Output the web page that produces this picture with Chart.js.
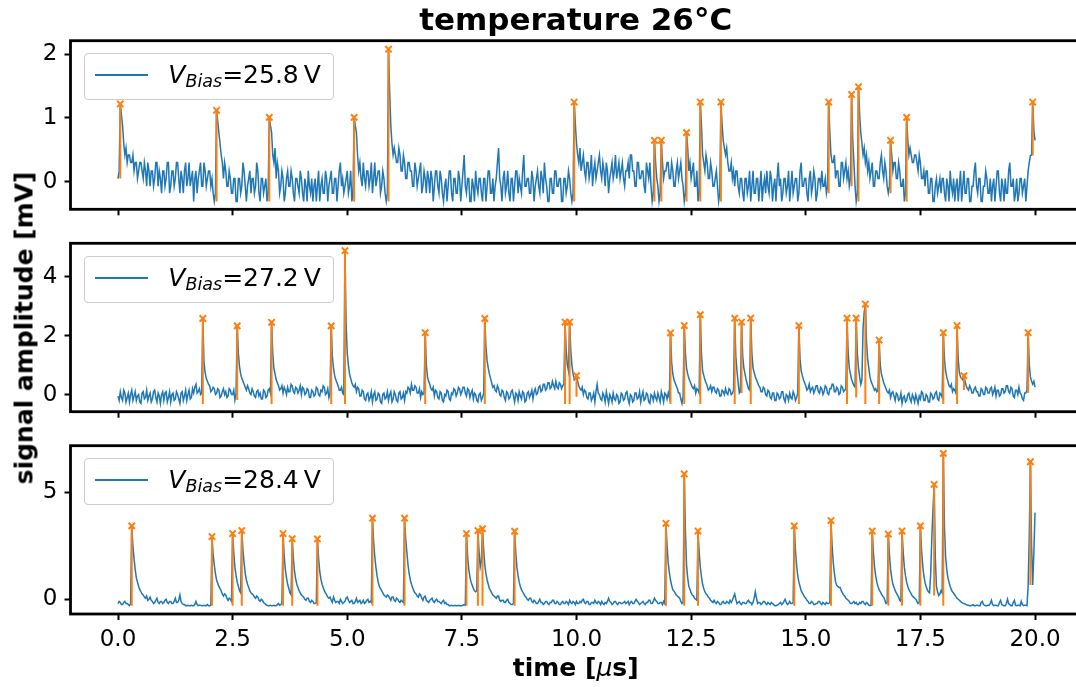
<!DOCTYPE html>
<html>
<head>
<meta charset="utf-8">
<script src="https://cdn.jsdelivr.net/npm/chart.js@4.4.1/dist/chart.umd.min.js"></script>
<style>
  html,body{margin:0;padding:0;background:#fff;overflow:hidden;width:1076px;height:687px;}
  body{position:relative;font-family:'DejaVu Sans',sans-serif;color:#000;}
  canvas{position:absolute;left:0;}
  .txt{position:absolute;white-space:nowrap;line-height:1;}
  .legbox{position:absolute;box-sizing:border-box;border:1px solid #cccccc;border-radius:4px;background:rgba(255,255,255,0.8);}
  .legline{position:absolute;height:2px;background:#1f77b4;}
  .legtxt{position:absolute;white-space:nowrap;font-size:25px;line-height:25px;}
  .legtxt sub{font-size:17.5px;font-style:italic;vertical-align:-4px;line-height:0;}
</style>
</head>
<body>
<canvas id="c1" width="1082" height="227" style="top:10px"></canvas>
<canvas id="c2" width="1082" height="227" style="top:213px"></canvas>
<canvas id="c3" width="1082" height="259" style="top:415px"></canvas>

<div class="txt" id="title" style="font-weight:bold;font-size:31px;left:575.7px;top:4px;transform:translateX(-50%);">temperature 26°C</div>
<div class="txt" id="ylab" style="font-weight:bold;font-size:25px;left:24.4px;top:327.5px;transform:translate(-50%,-50%) rotate(-90deg);">signal amplitude [mV]</div>
<div class="txt" id="xlab" style="font-weight:bold;font-size:25px;left:575.7px;top:655px;transform:translateX(-50%);">time [<span style="font-weight:normal;font-style:italic">μ</span>s]</div>

<script>
// ---------------- data ----------------
const sampleStep = 0.025;           // µs between samples
const nSamples = 801;               // 0 .. 20 µs
const timeUs = Array.from({length: nSamples}, (_, i) => +(i * sampleStep).toFixed(3));

const biasLabels = ['25.8', '27.2', '28.4'];

// panel 1: V_Bias = 25.8 V  (signal amplitude, mV)
const amp258 = [
 .05,.17,1.22,1.05,.88,.60,.42,.53,.30,.42,.42,.30,.30,.42,.17,.30,.30,.05,.17,.30,.30,.17,.05,.30,.17,-.07,.30,.17,-.07,.17,.17,-.07,.05,.30,.30,-.07,.17,.05,-.18,.17,
 .17,-.07,.05,.30,.30,-.18,-.07,.17,.17,-.07,.05,.30,.30,.05,-.18,.17,.05,-.18,.17,.30,-.07,.05,.30,-.07,.05,.17,-.31,.05,.17,-.18,.05,.17,.30,-.07,-.07,.30,.17,-.07,.05,.17,
 .17,-.07,.05,-.18,-.31,-.18,1.12,.95,.77,.60,.42,.30,.05,.30,.17,-.07,-.07,.17,.05,-.18,-.18,.05,.05,-.31,-.31,.05,.05,-.18,-.07,.30,.17,-.07,-.31,-.07,.05,.17,-.18,.05,.05,-.18,
 -.07,.30,.17,-.18,-.31,.05,.05,-.18,-.07,.05,-.31,-.18,1.01,.88,.77,.42,.30,.53,.05,.30,.17,-.18,-.07,.17,.05,-.31,-.18,.05,.17,-.07,-.07,.17,.05,-.18,-.31,.05,.05,-.07,-.18,.17,
 .05,-.18,-.31,.05,-.07,-.31,.17,-.07,-.18,.05,-.31,-.07,.05,-.31,-.07,.17,-.31,-.07,.05,-.18,-.18,.17,.05,-.31,-.07,.05,.17,-.18,-.18,.05,.05,-.31,-.07,.17,.30,-.07,.05,-.18,-.07,.05,
 .17,-.18,-.07,.17,-.31,-.18,1.01,.88,.77,.42,.17,.30,.05,-.07,.30,.05,-.07,.17,.17,-.07,.05,.30,-.18,.05,.30,-.07,.05,.17,.17,-.18,-.07,.17,.05,-.18,-.31,-.18,2.08,1.40,.88,.60,
 .42,.53,.42,.30,.30,.53,.42,.17,.17,.42,.30,.05,.05,.30,.30,.17,.17,-.07,-.07,.30,.17,-.07,.05,.17,.30,-.18,-.07,.17,.05,-.18,.17,.05,-.18,.17,.05,-.31,-.07,.17,.17,-.07,
 -.18,.17,.05,-.18,-.31,-.07,.05,-.31,-.07,.17,.17,-.18,-.31,.05,.05,-.18,-.18,.17,.05,-.31,-.07,.17,.42,-.07,-.18,.05,.05,-.31,-.31,.05,-.07,-.31,.17,-.07,-.18,.05,.05,-.18,-.31,.05,
 .05,-.31,-.07,.17,.17,-.18,-.18,.05,-.31,-.07,.05,.30,.53,.05,-.07,-.31,.05,.17,-.18,-.07,.17,-.18,-.31,.05,.05,-.31,-.07,.17,.17,-.18,.05,-.07,-.18,.17,.42,-.07,-.07,.05,.05,-.18,
 -.18,.17,.05,-.31,-.07,.05,.17,-.07,-.18,.17,.05,-.18,.30,.05,-.07,-.31,-.31,.05,.05,-.18,-.18,.17,.17,-.07,-.07,.05,.05,-.31,-.31,.05,.05,-.18,-.07,.17,.05,-.18,-.31,-.18,1.25,.90,
 .60,.42,.30,.53,.17,.30,.42,.17,.05,.30,.30,.05,.17,.42,-.07,.17,.30,.05,.17,.30,.42,.17,.05,.30,.17,-.07,.30,.17,-.18,.05,.17,.30,.05,.17,.42,.05,.17,.30,.05,.17,
 .30,.05,-.07,.17,.17,.30,.05,.42,.42,.17,.17,-.07,-.07,.30,.30,.05,.05,.17,.17,-.07,-.18,.30,.17,.05,.30,-.07,-.31,-.18,.65,.30,.05,-.07,-.31,-.18,.65,.30,.05,.17,.17,.30,
 .30,.05,.05,.30,.17,-.07,-.07,.17,.30,.05,.17,.30,.05,-.07,-.31,-.18,.77,.53,.17,.30,.05,.17,.30,-.07,-.07,.17,-.31,-.18,1.25,.90,.42,.30,.17,.42,.30,.05,.05,.30,.17,-.07,
 -.07,.05,.17,-.07,-.31,-.18,1.25,.90,.65,.53,.42,.53,.30,.17,.17,.30,.05,.17,-.07,.17,.17,-.07,-.18,.05,.05,-.18,-.31,.05,.05,-.18,-.07,.17,-.31,-.07,.17,-.18,-.18,.05,.05,-.31,
 -.07,.17,-.31,-.07,.05,-.18,.17,-.07,-.18,.17,.05,-.31,-.07,.05,-.31,.05,.30,-.07,.05,-.31,-.18,.05,.05,-.18,-.07,.17,-.31,-.07,.17,-.18,-.07,.05,.05,-.31,-.18,.17,.30,-.07,-.07,.05,
 .05,-.18,-.31,.05,.17,-.18,-.07,.17,.05,-.31,-.18,.05,.05,-.07,.17,-.07,-.07,.05,-.18,-.07,1.25,.77,.42,.30,.30,.42,.05,.17,.17,-.07,-.07,.30,.30,.05,.17,.30,.05,.17,-.07,.05,
 1.37,.65,.30,-.07,-.31,-.18,1.49,1.05,.77,.60,.42,.53,.30,.42,.17,.30,.05,.17,.30,-.07,-.07,.17,.17,.05,.05,.30,.42,.17,.05,.30,.17,-.07,-.18,-.07,.65,.42,.17,.30,.30,.05,
 .05,.30,.17,-.07,-.07,.05,-.31,-.18,1.01,.65,.42,.53,.42,.30,.30,.42,.42,.30,.17,.42,.30,.05,.05,.17,-.07,.17,.17,-.18,-.18,.05,.05,-.31,-.31,-.07,.05,-.18,-.07,.05,-.18,.05,
 .05,-.18,-.31,.05,-.07,-.31,.17,-.07,-.18,.05,-.31,-.07,.05,-.31,-.07,.17,-.31,-.07,.17,-.18,-.18,.05,.05,-.31,-.31,-.07,-.07,.17,.30,-.07,-.18,.05,.05,-.31,-.31,-.07,-.07,.17,.05,-.18,
 -.18,.05,-.31,-.07,.05,-.31,-.07,.17,.17,-.18,-.31,.05,-.07,-.31,.05,-.18,-.18,.17,.30,-.07,-.07,.05,-.31,-.18,.05,-.31,-.18,.05,.05,-.18,-.07,.05,-.31,-.07,.17,.30,.41,.42,1.25,.80,
 .65
];
const peakT258 = [0.05,2.15,3.30,5.15,5.90,9.95,11.70,11.85,12.40,12.70,13.15,15.50,16.00,16.15,16.85,17.20,19.95];
const peakV258 = [1.22,1.12,1.01,1.01,2.08,1.25,.65,.65,.77,1.25,1.25,1.25,1.37,1.49,.65,1.01,1.25];
const peakB258 = [.05,-.31,-.31,-.31,-.31,-.31,-.31,-.31,-.31,-.31,-.31,-.18,-.07,-.31,-.18,-.31,.41];

// panel 2: V_Bias = 27.2 V
const amp272 = [
 -.05,-.20,.10,-.10,-.20,.15,.05,-.25,-.10,.05,-.25,.00,.15,-.20,-.05,.10,-.20,-.05,.00,-.25,-.30,.05,.10,-.15,-.10,.15,-.20,-.05,.05,-.25,-.15,.10,.15,-.10,-.25,.05,-.05,-.30,.00,.10,
 -.20,.05,.10,-.25,-.10,.10,-.25,.00,.05,-.20,-.15,.10,.00,-.15,-.30,.05,.10,-.20,-.05,.15,-.20,.00,.15,-.15,-.10,.20,.05,.25,.35,.05,.10,.20,.00,.05,2.58,1.10,.75,.55,.45,.35,
 .30,.10,.15,.25,.20,.00,.05,.20,.15,-.10,-.05,.10,.20,.00,.10,-.10,-.05,.20,.15,.00,.00,.15,-.18,.05,2.33,1.40,.95,.70,.55,.45,.35,.25,.15,.30,.20,.05,.00,.20,.10,-.05,
 -.10,.10,.15,-.05,.05,-.15,-.15,.15,.10,-.10,-.05,.15,.20,.05,2.45,1.40,.90,.70,.50,.40,.30,.15,.20,.30,.05,.25,.15,.00,.25,.10,.10,.35,.30,.10,.05,.25,.20,.05,.15,.30,
 .00,.25,.20,.00,.05,.20,.15,-.10,-.10,.15,.10,-.05,.00,.25,.20,.00,-.05,.15,.10,.30,.25,.00,.05,.20,-.10,.05,2.33,1.30,.90,.65,.50,.40,.30,.15,.15,.25,.05,.00,4.88,2.40,
 1.40,1.00,.70,.55,.40,.30,.25,.35,.10,.25,.20,-.05,-.05,.15,.10,-.15,-.20,.00,.05,-.20,-.10,.10,-.25,.00,.10,-.20,-.15,.05,.00,-.25,-.30,.00,.05,-.15,-.10,.10,-.20,.00,.10,-.25,
 -.15,.10,.00,-.20,-.25,.05,.10,-.15,-.10,.05,-.20,.10,.05,.25,.20,.05,.35,.15,.15,.30,.25,.05,.05,.20,-.10,.10,.00,.05,2.10,1.00,.60,.45,.35,.20,.15,.25,-.05,.15,.10,-.10,
 -.15,.10,.05,-.20,-.25,.00,-.05,.15,.10,-.15,-.20,.05,.00,.20,.15,-.05,.05,.25,.20,.00,.10,.25,.25,.05,-.05,.20,.15,-.10,.05,.15,-.15,.05,.00,-.20,-.25,.00,.05,-.20,-.10,.05,
 2.58,1.60,1.15,.90,.70,.55,.40,.25,.30,.15,.10,.30,.20,.00,-.05,.15,.10,-.10,-.20,.10,.05,-.15,-.10,.10,.15,-.05,-.25,.05,.00,-.20,.10,-.05,-.15,.10,.05,-.25,-.20,.05,.10,-.10,
 .00,.15,-.15,.10,.20,.00,.05,.25,.30,.10,.15,.35,.35,.15,.20,.40,.40,.20,.25,.45,.30,.20,.45,.25,.20,.40,.35,.20,.30,.35,2.46,1.50,1.00,.80,2.46,1.50,1.00,.70,.50,.55,
 .64,.45,.30,.20,.15,.25,.00,.15,.10,-.10,-.15,.05,.05,-.20,-.10,.05,-.25,.10,.35,.05,.00,-.15,-.20,.05,-.05,-.25,.10,-.10,-.30,.00,-.10,-.25,.05,-.15,-.20,.00,-.05,-.30,-.25,.05,
 .00,-.20,-.15,.05,.10,-.15,-.30,.00,-.05,-.25,-.20,.05,.05,-.15,-.10,.10,-.25,-.05,.10,-.20,-.15,.05,.00,-.25,-.30,.00,-.05,-.20,.05,-.10,-.20,.05,-.10,-.25,.10,-.05,-.25,.05,.00,-.15,
 .05,-.10,2.09,1.10,.70,.50,.40,.30,.20,.05,.05,-.15,-.30,-.05,2.34,1.40,.90,.70,.55,.45,.35,.25,.20,.30,.05,.20,.15,.05,2.71,1.40,.80,.65,.50,.40,.30,.15,.20,.30,.10,.25,
 .25,.10,.05,.20,.15,-.05,-.05,.15,.10,.00,.20,.05,.00,.20,.15,.00,.05,.15,2.59,1.30,.80,.40,.05,.10,2.46,1.30,.90,.70,.50,.35,.20,.15,2.59,1.40,.90,.75,.60,.50,.40,.30,
 .25,.10,.10,.25,.20,.00,-.05,.15,.10,-.10,-.15,.05,.05,-.20,-.20,.05,.00,-.15,-.10,.10,.10,-.15,-.25,.00,-.05,-.20,.05,-.10,-.15,.10,.00,-.20,-.10,.05,2.34,1.20,.80,.65,.50,.40,
 .30,.15,.20,.35,.10,.20,.25,.05,.15,.30,.30,.10,.05,.25,.20,.00,.10,.30,.25,.05,.00,.20,.20,.35,.35,.10,.10,.25,.20,.00,.05,.30,.25,.10,.15,.20,2.59,1.40,.90,.70,
 .50,.40,.30,.25,2.59,1.40,.90,.60,.35,.50,2.25,2.80,3.07,1.80,1.20,.90,.60,.45,.35,.25,.15,.20,.10,.15,1.85,1.00,.70,.55,.40,.30,.20,.10,.05,.15,-.10,.05,.10,-.05,-.20,.05,
 .00,-.20,-.15,.05,-.30,-.10,-.05,-.25,-.20,.00,.05,-.15,-.25,.00,-.10,-.25,.00,-.15,-.30,-.05,-.15,.10,.05,-.20,-.20,.00,-.05,-.25,-.25,.05,.00,-.15,-.10,.05,.10,-.15,-.20,.05,.00,-.10,
 2.10,1.20,.80,.60,.45,.30,.25,.35,.10,.20,.15,.05,2.34,1.20,.75,.60,.55,.50,.64,.45,.30,.20,.15,.30,.20,.05,.05,.20,.25,.10,.10,-.05,-.05,.20,.15,.00,.00,.25,.20,.05,
 .05,.20,.25,.00,.10,.25,-.05,.15,.15,-.05,.00,.20,.20,.05,.10,.30,.30,.10,.05,.25,.20,-.05,-.10,.15,.15,.00,.25,.05,.00,-.15,-.20,.05,.05,.15,2.10,1.00,.60,.45,.35,.45,
 .25
];
const peakT272 = [1.85,2.60,3.35,4.65,4.95,6.70,8.00,9.75,9.85,10.00,12.05,12.35,12.70,13.45,13.60,13.80,14.85,15.90,16.10,16.30,16.60,18.00,18.30,18.45,19.85];
const peakV272 = [2.58,2.33,2.45,2.33,4.88,2.10,2.58,2.46,2.46,.64,2.09,2.34,2.71,2.59,2.46,2.59,2.34,2.59,2.59,3.07,1.85,2.10,2.34,.64,2.10];
const peakB272 = [-.32,-.18,-.32,-.32,-.32,-.32,-.32,-.32,-.32,-.07,-.32,-.32,-.32,-.32,.05,-.32,-.32,-.32,-.10,-.32,-.32,-.32,-.32,.16,.05];

// panel 3: V_Bias = 28.4 V
const amp284 = [
 -.20,-.10,-.15,-.25,-.25,-.15,-.10,-.20,-.20,-.25,-.30,-.20,3.43,2.50,1.90,1.40,1.00,.80,.60,.45,.35,.25,.20,.10,.05,.15,-.05,.00,.10,-.05,-.10,-.20,-.15,-.05,.05,-.15,-.20,-.10,-.10,-.20,
 -.15,-.05,.00,-.15,-.20,-.10,-.10,-.20,-.20,-.10,.05,-.15,-.15,-.05,.20,-.10,-.20,-.25,-.25,-.30,-.30,-.28,-.30,-.30,-.28,-.30,-.30,-.25,-.10,-.25,-.30,-.28,-.28,-.30,-.30,-.28,-.30,-.30,-.25,-.30,
 -.30,-.28,2.93,2.10,1.60,1.20,.90,.75,.60,.50,.40,.25,.15,.25,.20,.05,-.05,.05,.00,-.10,3.07,2.20,1.50,1.10,.80,.60,.40,.30,3.21,2.30,1.70,1.20,.90,.70,.55,.40,.30,.25,.20,.10,
 .05,.15,.10,-.05,-.10,.00,-.05,-.15,-.20,-.25,-.28,-.30,-.30,-.28,-.30,-.30,-.28,-.30,-.30,-.25,-.20,-.28,-.25,-.20,3.07,2.00,1.40,1.00,.70,.50,.30,.20,2.83,1.90,1.30,.95,.70,.55,.40,.30,
 .20,.15,.10,.00,-.05,.05,.05,-.10,-.15,-.05,-.10,-.20,-.20,-.15,2.82,1.90,1.30,.95,.70,.55,.40,.30,.20,.10,.05,.10,-.05,-.15,.10,-.05,-.15,-.10,-.10,-.20,.00,-.10,-.20,-.15,-.10,.05,
 .10,-.05,-.15,-.10,-.05,-.20,-.20,-.10,.05,-.15,-.10,-.05,-.20,-.15,-.05,-.20,-.15,-.05,.00,-.15,-.10,-.15,3.79,2.70,2.00,1.50,1.10,.80,.60,.50,.40,.30,.20,.15,.10,.20,.15,.05,-.05,.10,
 .10,-.05,-.10,.05,.00,-.10,-.15,-.05,-.10,-.15,3.79,2.80,2.20,1.60,1.20,.90,.70,.55,.40,.30,.25,.15,.10,.25,.20,.05,-.05,.10,.15,-.05,-.10,-.15,-.05,.00,.05,-.10,-.15,-.05,.00,-.10,
 -.10,-.15,-.20,-.10,-.05,-.20,-.15,-.25,-.25,-.30,-.30,-.28,-.30,-.30,-.28,-.30,-.30,-.28,-.30,-.30,-.30,-.28,-.25,-.28,3.07,2.00,1.40,1.05,.80,.65,.50,.40,.35,.40,3.21,2.20,1.50,1.80,3.30,2.30,
 1.60,1.20,.90,.70,.50,.40,.30,.20,.15,.10,.05,.15,.15,-.05,-.10,-.05,-.05,-.15,-.15,-.05,.00,-.15,-.20,-.25,-.25,-.20,3.18,2.20,1.50,1.10,.80,.60,.45,.35,.25,.15,.10,.00,-.05,.05,
 .05,-.10,-.15,-.05,-.10,-.20,-.20,-.10,.00,-.15,-.15,-.25,-.20,-.10,-.10,-.20,-.25,-.15,-.15,-.05,-.05,-.20,-.20,-.10,-.15,-.25,-.25,-.15,-.10,-.20,-.20,-.10,-.15,-.25,-.05,-.15,-.20,-.10,-.15,-.25,
 -.10,-.20,-.20,-.10,-.15,-.05,.00,-.15,-.20,-.10,-.10,-.25,-.25,-.15,-.15,-.20,-.05,-.15,-.20,-.10,-.15,-.25,-.10,-.20,-.25,-.15,-.20,-.10,.05,-.10,-.15,-.25,-.20,-.10,-.10,-.20,-.25,-.15,-.15,-.20,
 -.20,-.15,-.10,-.20,-.15,-.10,-.25,-.15,-.10,-.20,-.20,-.10,.00,-.10,-.15,-.25,-.20,-.15,-.10,-.20,-.25,-.15,-.15,-.05,-.05,-.20,-.20,-.10,.05,-.05,-.10,-.20,-.20,-.15,-.15,-.25,-.10,-.20,3.55,2.50,
 1.70,1.25,.90,.65,.45,.38,.30,.20,.15,.10,.05,-.10,-.20,-.15,5.86,3.20,1.60,1.00,.60,.45,.30,.20,.15,.05,.00,-.05,3.19,2.20,1.50,1.05,.70,.50,.35,.25,.20,.10,.05,-.05,-.10,-.15,
 -.05,-.15,-.20,-.10,-.15,-.25,-.25,-.15,-.10,-.20,-.20,-.10,-.15,-.20,-.05,-.15,-.05,.10,.25,.00,-.20,-.15,-.10,-.20,-.25,-.15,-.15,-.20,-.20,-.10,-.05,-.15,-.15,-.25,-.15,.05,.35,.05,-.20,-.15,
 -.15,-.25,-.20,-.10,-.10,-.20,-.25,-.15,-.20,-.25,-.15,-.20,-.25,-.30,-.30,-.28,-.25,-.20,-.15,-.25,-.20,-.10,.00,-.15,-.25,-.20,-.10,-.20,-.20,-.15,3.43,2.30,1.60,1.10,.80,.60,.40,.30,.20,.10,
 .05,-.05,-.10,-.20,-.20,-.10,-.15,-.25,-.25,-.20,-.20,-.10,-.10,-.20,-.25,-.15,-.20,-.25,-.15,-.20,-.20,-.15,3.68,2.50,1.70,1.20,.80,.65,.60,.55,.55,.40,.30,.20,.15,.05,.00,-.05,-.10,-.20,
 -.20,-.15,-.10,-.20,-.15,-.25,-.25,-.15,-.20,-.10,-.10,-.20,-.25,-.15,-.20,-.28,-.30,-.28,3.19,2.20,1.50,1.10,.80,.60,.45,.35,.25,.15,.10,-.05,-.20,-.15,3.05,2.10,1.40,1.00,.70,.55,.40,.30,
 .20,.10,-.05,-.10,3.19,2.20,1.50,1.10,.80,.60,.45,.35,.25,.15,.10,.05,.00,-.10,-.20,-.15,3.43,2.30,1.60,1.10,.80,.60,.45,.35,.30,1.20,2.90,4.20,5.37,2.00,.60,.35,.17,.25,.40,.30,
 6.82,3.40,2.00,1.40,1.00,.80,.60,.45,.35,.28,.20,.12,.05,.00,-.05,-.10,-.15,-.18,-.20,-.22,-.25,-.28,-.28,-.30,-.30,-.28,-.25,-.30,-.30,-.28,-.28,-.30,-.30,-.15,-.10,-.25,-.28,-.30,-.30,-.28,
 -.28,-.20,-.05,-.25,-.30,-.28,-.28,-.30,-.30,-.15,-.05,-.25,-.28,-.30,-.30,-.20,.00,-.20,-.25,-.30,-.30,-.15,-.05,-.28,-.30,-.28,-.28,-.30,-.10,-.25,-.30,-.28,-.28,-.30,.60,3.00,6.43,2.50,.67,2.20,
 4.05
];
const peakT284 = [0.30,2.05,2.50,2.70,3.60,3.80,4.35,5.55,6.25,7.60,7.85,7.95,8.65,11.95,12.35,12.65,14.75,15.55,16.45,16.80,17.10,17.50,17.80,18.00,19.90];
const peakV284 = [3.43,2.93,3.07,3.21,3.07,2.83,2.82,3.79,3.79,3.07,3.21,3.30,3.18,3.55,5.86,3.19,3.43,3.68,3.19,3.05,3.19,3.43,5.37,6.82,6.43];
const peakB284 = [-.31,-.31,-.31,-.31,-.31,-.31,-.31,-.31,-.31,-.31,-.31,-.31,-.31,-.31,-.31,-.31,-.31,-.31,-.31,-.31,-.31,-.31,.17,-.31,.67];

const xRange = [-1.036, 21.003];
const xTickStep = 2.5;
const yTickSteps = [1, 2, 5];

// ---------------- drawing ----------------
const C0 = '#1f77b4', C1 = '#ff7f0e';
const AX_LEFT = 70.5, AX_RIGHT = 1081;
Chart.defaults.font.family = "'DejaVu Sans', sans-serif";
Chart.defaults.color = '#000';

const spines = {
  id: 'spines',
  afterDraw(chart) {
    const {ctx, chartArea: a} = chart;
    ctx.save();
    ctx.strokeStyle = '#000';
    ctx.lineWidth = 2.8;
    ctx.strokeRect(a.left, a.top, a.right - a.left, a.bottom - a.top);
    ctx.restore();
  }
};

function geomPlugin(p, padTop) {
  return {
    id: 'geom',
    afterLayout(chart) {
      const L = AX_LEFT, R = AX_RIGHT, T = padTop, B = padTop + (p.B - p.T);
      const ca = chart.chartArea;
      ca.left = L; ca.right = R; ca.top = T; ca.bottom = B; ca.width = R - L; ca.height = B - T;
      const xs = chart.scales.x, ys = chart.scales.y;
      xs.left = L; xs.right = R; xs.width = R - L; xs.top = B; xs.bottom = B + p.xh; xs.height = p.xh;
      ys.left = 0; ys.right = L; ys.width = L; ys.top = T; ys.bottom = B; ys.height = B - T;
      xs.configure(); ys.configure();
    }
  };
}

function makePanel(p) {
  const cv = document.getElementById(p.id);
  const H = cv.height;
  const padTop = p.T - p.canvasTop;
  const padBottom = Math.max(H - padTop - (p.B - p.T) - p.xh, 0);
  const trace = timeUs.map((t, i) => ({x: t, y: p.amp[i]}));
  const vl = [];
  p.pt.forEach((t, k) => { vl.push({x: t, y: p.pb[k]}, {x: t, y: p.pv[k]}, {x: t, y: null}); });
  const mk = p.pt.map((t, k) => ({x: t, y: p.pv[k]}));
  const gridOpt = {display: true, drawOnChartArea: false, drawTicks: true, tickLength: 6, tickWidth: 2, tickColor: '#000'};
  new Chart(cv, {
    type: 'line',
    data: {datasets: [
      {data: mk, showLine: false, pointStyle: 'crossRot', pointRadius: 4.5, pointBorderWidth: 2,
       pointBorderColor: C1, pointBackgroundColor: C1, borderColor: C1, order: 1},
      {data: vl, borderColor: C1, borderWidth: 2, pointRadius: 0, spanGaps: false, order: 2},
      {data: trace, borderColor: C0, borderWidth: 1.5, pointRadius: 0, order: 3, label: 'V_Bias=' + p.bias + ' V'}
    ]},
    options: {
      responsive: false, animation: false, devicePixelRatio: 1, events: [],
      layout: {padding: {top: padTop, bottom: padBottom, left: 0, right: 1}},
      plugins: {legend: {display: false}, tooltip: {enabled: false}, title: {display: false}},
      scales: {
        x: {type: 'linear', min: xRange[0], max: xRange[1],
            afterFit(s) { s.height = p.xh; s.paddingLeft = 0; s.paddingRight = 0; },
            border: {display: false}, grid: gridOpt,
            ticks: {display: p.showX, stepSize: xTickStep, includeBounds: false, autoSkip: false, maxRotation: 0,
                    font: {size: 23}, padding: 6, color: '#000', callback: v => v.toFixed(1)}},
        y: {type: 'linear', min: p.ymin, max: p.ymax,
            afterFit(s) { s.width = AX_LEFT; s.paddingTop = 0; s.paddingBottom = 0; },
            border: {display: false}, grid: gridOpt,
            ticks: {stepSize: p.ystep, includeBounds: false, font: {size: 23}, padding: 7, color: '#000',
                    callback: v => String(v)}}
      }
    },
    plugins: [geomPlugin(p, padTop), spines]
  });
}

const panels = [
  {id: 'c1', canvasTop: 10,  T: 40.7,  B: 209.3, ymin: -0.433, ymax: 2.213, ystep: yTickSteps[0], xh: 12, showX: false,
   amp: amp258, pt: peakT258, pv: peakV258, pb: peakB258, bias: biasLabels[0]},
  {id: 'c2', canvasTop: 213, T: 243.3, B: 411.7, ymin: -0.58, ymax: 5.13, ystep: yTickSteps[1], xh: 12, showX: false,
   amp: amp272, pt: peakT272, pv: peakV272, pb: peakB272, bias: biasLabels[1]},
  {id: 'c3', canvasTop: 415, T: 445.7, B: 614.0, ymin: -0.69, ymax: 7.18, ystep: yTickSteps[2], xh: 50, showX: true,
   amp: amp284, pt: peakT284, pv: peakV284, pb: peakB284, bias: biasLabels[2]}
];
panels.forEach(makePanel);

// legends (mathtext style label)
panels.forEach(p => {
  const box = document.createElement('div');
  box.className = 'legbox';
  box.style.left = '84px'; box.style.top = (p.T + 12.6) + 'px';
  box.style.width = '250px'; box.style.height = '47px';
  document.body.appendChild(box);
  const ln = document.createElement('div');
  ln.className = 'legline';
  ln.style.left = '94.7px'; ln.style.width = '53.3px'; ln.style.top = Math.round(p.T + 33.3) + 'px';
  document.body.appendChild(ln);
  const tx = document.createElement('div');
  tx.className = 'legtxt';
  tx.style.left = '168.3px'; tx.style.top = (p.T + 42.6 - 21.15) + 'px';
  tx.innerHTML = '<i>V</i><sub>Bias</sub>=' + p.bias + '&thinsp;V';
  document.body.appendChild(tx);
});
</script>
</body>
</html>
